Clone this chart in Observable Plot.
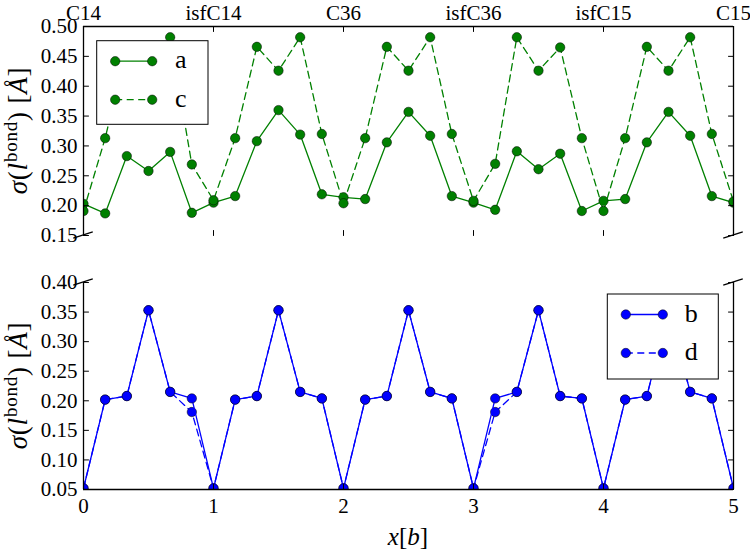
<!DOCTYPE html>
<html><head><meta charset="utf-8">
<script src="https://cdn.jsdelivr.net/npm/d3@7"></script>
<script src="https://cdn.jsdelivr.net/npm/@observablehq/plot@0.6"></script>
<style>
body{margin:0;background:#fff}
#wrap{position:relative;width:750px;height:552px;overflow:hidden;background:#fff;font-family:"Liberation Serif",serif}
#wrap svg{position:absolute;left:0}
#wrap svg text, #wrap svg tspan{font-family:"Liberation Serif",serif !important}
</style></head><body><div id="wrap"></div>
<script>
// ---- data ----
const xs = [0, 0.1667, 0.3333, 0.5, 0.6667, 0.8333, 1, 1.1667, 1.3333, 1.5, 1.6667, 1.8333,
  2, 2.1667, 2.3333, 2.5, 2.6667, 2.8333, 3, 3.1667, 3.3333, 3.5, 3.6667, 3.8333,
  4, 4.1667, 4.3333, 4.5, 4.6667, 4.8333, 5];
const structures = ["C14", "isfC14", "C36", "isfC36", "isfC15", "C15"];
const xTicks = [0, 1, 2, 3, 4, 5];
const yTicksTop = [0.15, 0.20, 0.25, 0.30, 0.35, 0.40, 0.45, 0.50];
const yTicksBottom = [0.05, 0.10, 0.15, 0.20, 0.25, 0.30, 0.35, 0.40];
const seriesA = [0.203, 0.187, 0.283, 0.258, 0.290, 0.188, 0.205, 0.216, 0.308, 0.360, 0.319, 0.219,
  0.214, 0.211, 0.306, 0.357, 0.317, 0.216, 0.205, 0.193, 0.291, 0.261, 0.287, 0.191,
  0.208, 0.211, 0.306, 0.357, 0.317, 0.216, 0.205];
const seriesC = [0.191, 0.313, 0.465, 0.426, 0.482, 0.269, 0.209, 0.313, 0.466, 0.426, 0.482, 0.320,
  0.204, 0.313, 0.466, 0.426, 0.482, 0.320, 0.208, 0.270, 0.482, 0.426, 0.465, 0.313,
  0.191, 0.313, 0.466, 0.426, 0.482, 0.320, 0.207];
const seriesB = [0.052, 0.202, 0.208, 0.353, 0.215, 0.204, 0.052, 0.202, 0.208, 0.353, 0.215, 0.204,
  0.052, 0.202, 0.208, 0.353, 0.215, 0.204, 0.052, 0.204, 0.215, 0.353, 0.208, 0.204,
  0.052, 0.202, 0.208, 0.353, 0.215, 0.204, 0.052];
const seriesD = [0.052, 0.202, 0.208, 0.353, 0.215, 0.181, 0.052, 0.202, 0.208, 0.353, 0.215, 0.204,
  0.052, 0.202, 0.208, 0.353, 0.215, 0.204, 0.052, 0.181, 0.215, 0.353, 0.208, 0.204,
  0.052, 0.202, 0.208, 0.353, 0.215, 0.204, 0.052];

const GREEN = "#008000", BLUE = "#0000ff";
const FONT = "\"Liberation Serif\", serif";
const DASH = "7,4.5";
const rows = (vals) => xs.map((x, i) => ({x, v: vals[i]}));

const tickShape = {draw(ctx, l) { ctx.moveTo(0, 0); ctx.lineTo(0, -l); }};
const tickOpts = {length: 5, anchor: "start", shape: tickShape, stroke: "black", strokeWidth: 1};

function seriesMarks(vals, color, dash) {
  return [
    Plot.line(rows(vals), {x: "x", y: "v", stroke: color, strokeWidth: 1.3, strokeDasharray: dash, clip: true}),
    Plot.dot(rows(vals), {x: "x", y: "v", r: 4.7, fill: color, stroke: "black", strokeWidth: 0.5, clip: true})
  ];
}

const wrap = document.getElementById("wrap");

// ---- top panel ----
const topChart = Plot.plot({
  width: 750, height: 250,
  marginLeft: 83, marginRight: 17, marginTop: 26, marginBottom: 15,
  x: {domain: [0, 5]},
  y: {domain: [0.15, 0.5]},
  style: {fontFamily: FONT, fontSize: "21px", background: "transparent", overflow: "visible", color: "black"},
  marks: [
    ...seriesMarks(seriesA, GREEN, null),
    ...seriesMarks(seriesC, GREEN, DASH),
    Plot.axisY({ticks: yTicksTop, tickSize: 0, tickPadding: 6, tickFormat: d3.format(".2f"), label: null, fill: "black", fontFamily: FONT, fontSize: 21}),
    Plot.axisX({anchor: "top", ticks: xTicks, tickSize: 0, tickPadding: 7, tickFormat: (d) => structures[d], label: null, fill: "black", fontFamily: FONT, fontSize: 21}),
    Plot.ruleX([0, 5], {stroke: "black", strokeWidth: 1.3}),
    Plot.ruleY([0.5], {stroke: "black", strokeWidth: 1.3}),
    Plot.vector(yTicksTop, {y: (d) => d, frameAnchor: "left", rotate: 90, ...tickOpts}),
    Plot.vector(yTicksTop, {y: (d) => d, frameAnchor: "right", rotate: -90, ...tickOpts}),
    Plot.vector(xTicks, {x: (d) => d, frameAnchor: "top", rotate: 180, ...tickOpts}),
    Plot.vector(xTicks, {x: (d) => d, frameAnchor: "bottom", rotate: 0, ...tickOpts})
  ]
});
topChart.style.top = "0px";
wrap.appendChild(topChart);

// ---- bottom panel ----
const botChart = Plot.plot({
  width: 750, height: 302,
  marginLeft: 83, marginRight: 17, marginTop: 32, marginBottom: 63,
  x: {domain: [0, 5]},
  y: {domain: [0.05, 0.4]},
  style: {fontFamily: FONT, fontSize: "21px", background: "transparent", overflow: "visible", color: "black"},
  marks: [
    ...seriesMarks(seriesD, BLUE, DASH),
    ...seriesMarks(seriesB, BLUE, null),
    Plot.axisY({ticks: yTicksBottom, tickSize: 0, tickPadding: 6, tickFormat: d3.format(".2f"), label: null, fill: "black", fontFamily: FONT, fontSize: 21}),
    Plot.axisX({anchor: "bottom", ticks: xTicks, tickSize: 0, tickPadding: 9, tickFormat: (d) => String(d), label: null, fill: "black", fontFamily: FONT, fontSize: 21}),
    Plot.ruleX([0, 5], {stroke: "black", strokeWidth: 1.3}),
    Plot.ruleY([0.05], {stroke: "black", strokeWidth: 1.3}),
    Plot.vector(yTicksBottom, {y: (d) => d, frameAnchor: "left", rotate: 90, ...tickOpts}),
    Plot.vector(yTicksBottom, {y: (d) => d, frameAnchor: "right", rotate: -90, ...tickOpts}),
    Plot.vector(xTicks, {x: (d) => d, frameAnchor: "bottom", rotate: 0, ...tickOpts})
  ]
});
botChart.style.top = "250px";
wrap.appendChild(botChart);

// ---- decorations: y labels, x label, breaks, legends ----
function yLabel(svg, cy) {
  const t = d3.select(svg).append("text")
    .attr("transform", `translate(27,${cy}) rotate(-90)`)
    .attr("text-anchor", "middle").style("font-size", "27px")
    .style("letter-spacing", "0.8px").attr("fill", "black");
  t.append("tspan").attr("font-style", "italic").text("σ");
  t.append("tspan").text("(");
  t.append("tspan").attr("font-style", "italic").text("l");
  t.append("tspan").attr("dy", -10).style("font-size", "19px").text("bond");
  t.append("tspan").attr("dy", 10).text(") [");
  t.append("tspan").attr("font-style", "italic").text("Å");
  t.append("tspan").text("]");
}
function breaks(chart, yv) {
  const sx = chart.scale("x"), sy = chart.scale("y");
  const g = d3.select(chart).append("g").attr("stroke", "black").attr("stroke-width", 1.3);
  const y0 = sy.apply(yv);
  for (const xv of [0, 5]) {
    const x0 = sx.apply(xv);
    g.append("line").attr("x1", x0 - 9.75).attr("y1", y0 + 3.1).attr("x2", x0 + 9.75).attr("y2", y0 - 3.1);
  }
}
function legend(chart, bx, by, bw, bh, items, color) {
  const g = d3.select(chart).append("g");
  g.append("rect").attr("x", bx).attr("y", by).attr("width", bw).attr("height", bh)
    .attr("fill", "white").attr("stroke", "black").attr("stroke-width", 1);
  items.forEach((it, i) => {
    const yy = by + 20.5 + i * 38.5;
    const x1 = bx + 18.5, x2 = bx + 55.5;
    g.append("line").attr("x1", x1).attr("x2", x2).attr("y1", yy).attr("y2", yy)
      .attr("stroke", color).attr("stroke-width", 1.3).attr("stroke-dasharray", it.dash);
    for (const xx of [x1, x2]) g.append("circle").attr("cx", xx).attr("cy", yy).attr("r", 4.7)
      .attr("fill", color).attr("stroke", "black").attr("stroke-width", 0.5);
    g.append("text").attr("x", bx + 84).attr("y", yy + 7).style("font-size", "26px")
      .attr("fill", "black").text(it.label);
  });
}

const topY = topChart.scale("y"), botY = botChart.scale("y");
yLabel(topChart, (topY.apply(0.15) + topY.apply(0.5)) / 2);
yLabel(botChart, (botY.apply(0.05) + botY.apply(0.4)) / 2);
breaks(topChart, 0.15);
breaks(botChart, 0.4);

const xl = d3.select(botChart).append("text")
  .attr("x", (botChart.scale("x").apply(0) + botChart.scale("x").apply(5)) / 2).attr("y", 295)
  .attr("text-anchor", "middle").style("font-size", "25px").attr("fill", "black");
xl.append("tspan").attr("font-style", "italic").text("x");
xl.append("tspan").text("[");
xl.append("tspan").attr("font-style", "italic").text("b");
xl.append("tspan").text("]");

legend(topChart, 96.7, 40.7, 111.3, 83.6, [{label: "a", dash: null}, {label: "c", dash: DASH}], GREEN);
legend(botChart, 607.3, 44, 111, 85, [{label: "b", dash: null}, {label: "d", dash: DASH}], BLUE);
</script>
</body></html>
